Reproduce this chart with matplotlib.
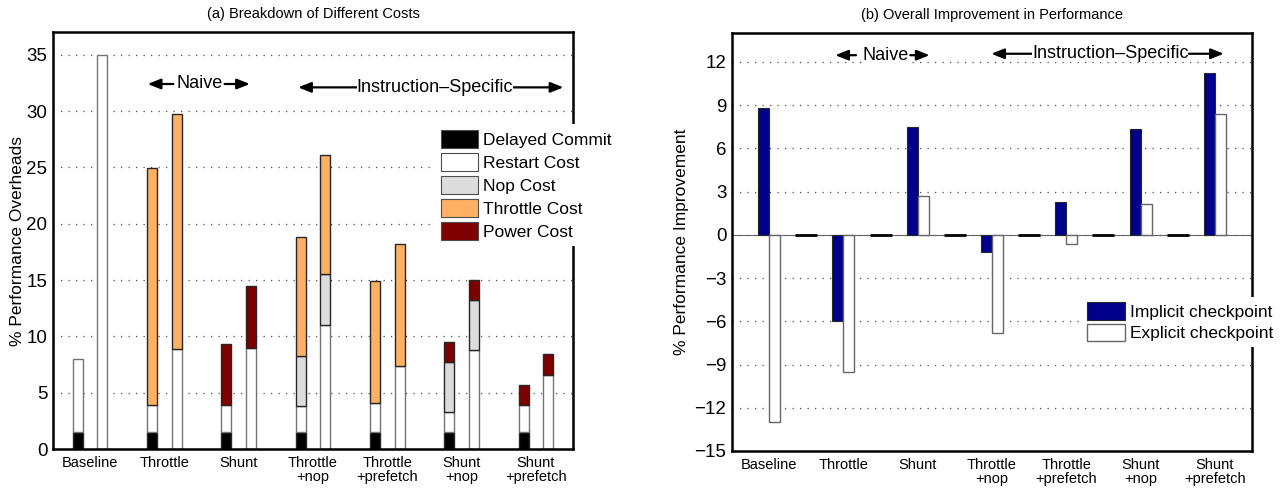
import numpy as np
import matplotlib
matplotlib.use('Agg')
import matplotlib.pyplot as plt
from matplotlib.patches import Patch

plt.rcParams['font.family'] = ['Liberation Sans', 'DejaVu Sans']

groups = ['Baseline', 'Throttle', 'Shunt', 'Throttle\n+nop', 'Throttle\n+prefetch',
          'Shunt\n+nop', 'Shunt\n+prefetch']

# (a) stacked costs, implicit (first bar) and explicit (second bar) per group
delayed_impl = [1.5, 1.5, 1.5, 1.5, 1.5, 1.5, 1.5]
restart_impl = [6.5, 2.4, 2.4, 2.3, 2.55, 1.8, 2.4]
nop_impl = [0, 0, 0, 4.5, 0, 4.4, 0]
throttle_impl = [0, 21.0, 0, 10.55, 10.85, 0, 0]
power_impl = [0, 0, 5.4, 0, 0, 1.8, 1.8]

delayed_expl = [0, 0, 0, 0, 0, 0, 0]
restart_expl = [35.0, 8.85, 9.0, 11.0, 7.4, 8.8, 6.6]
nop_expl = [0, 0, 0, 4.5, 0, 4.4, 0]
throttle_expl = [0, 20.9, 0, 10.6, 10.8, 0, 0]
power_expl = [0, 0, 5.45, 0, 0, 1.8, 1.8]

# (b) overall improvement
implicit_impr = [8.8, -5.95, 7.48, -1.2, 2.27, 7.32, 11.19]
explicit_impr = [-13.0, -9.5, 2.66, -6.83, -0.63, 2.15, 8.36]

cost_names = ['Delayed Commit', 'Restart Cost', 'Nop Cost', 'Throttle Cost', 'Power Cost']
cost_colors = ['#000000', '#ffffff', '#dcdcdc', '#ffb163', '#7f0000']

fig = plt.figure(figsize=(12.86, 4.91), dpi=100)
ax1 = fig.add_axes([0.0412, 0.0855, 0.4044, 0.849])
ax2 = fig.add_axes([0.5692, 0.0815, 0.4044, 0.8513])

x = np.arange(len(groups))
w = 0.135
off = 0.165

impl_stack = [delayed_impl, restart_impl, nop_impl, throttle_impl, power_impl]
expl_stack = [delayed_expl, restart_expl, nop_expl, throttle_expl, power_expl]
for pos, stack in [(x - off, impl_stack), (x + off, expl_stack)]:
    bottom = np.zeros(len(groups))
    for vals, col in zip(stack, cost_colors):
        vals = np.array(vals, dtype=float)
        ec = '0.45' if col == '#ffffff' else '0.15'
        mask = vals > 0
        ax1.bar(pos[mask], vals[mask], w, bottom=bottom[mask], color=col,
                edgecolor=ec, linewidth=1.0, zorder=3)
        bottom += vals

ax1.set_xlim(-0.5, 6.5)
ax1.set_ylim(0, 37)
ax1.set_yticks(range(0, 36, 5))
ax1.set_xticks(x)
ax1.set_xticklabels(groups, fontsize=10.5, linespacing=1.0)
ax1.set_ylabel('% Performance Overheads', fontsize=12.5, labelpad=1)
ax1.set_title('(a) Breakdown of Different Costs', fontsize=10.5, pad=10)
ax1.yaxis.grid(True, linestyle=(0, (1, 5)), color='0.3', linewidth=0.9, zorder=0)
ax1.set_axisbelow(True)

handles = [Patch(facecolor=c, edgecolor='0.3', linewidth=0.8) for c in cost_colors]
leg1 = ax1.legend(handles, cost_names, loc='upper left', bbox_to_anchor=(0.735, 0.78),
                  fontsize=12.5, frameon=True, fancybox=False, framealpha=1,
                  edgecolor='none', borderaxespad=0, borderpad=0.35,
                  handlelength=2.1, handleheight=1.2, handletextpad=0.3,
                  labelspacing=0.3)
leg1.set_zorder(10)

# arrows and labels, panel (a)
arr = dict(arrowstyle='-|>,head_length=0.55,head_width=0.22', color='k', lw=1.6,
           mutation_scale=14, shrinkA=0, shrinkB=0)
ax1.annotate('', xy=(0.775, 32.4), xytext=(1.12, 32.4), arrowprops=arr)
ax1.annotate('', xy=(2.15, 32.4), xytext=(1.81, 32.4), arrowprops=arr)
ax1.text(1.476, 32.4, 'Naive', ha='center', va='center', fontsize=13)
ax1.annotate('', xy=(2.80, 32.1), xytext=(3.60, 32.1), arrowprops=arr)
ax1.annotate('', xy=(6.37, 32.1), xytext=(5.69, 32.1), arrowprops=arr)
ax1.text(4.64, 32.1, 'Instruction\u2013Specific', ha='center', va='center',
         fontsize=13, bbox=dict(facecolor='white', edgecolor='none', pad=0))

# (b)
wb = 0.148
ax2.bar(x - wb / 2, implicit_impr, wb, color='#00008b', edgecolor='0.15',
        linewidth=0.8, zorder=3, label='Implicit checkpoint')
ax2.bar(x + wb / 2, explicit_impr, wb, color='white', edgecolor='0.4',
        linewidth=1.0, zorder=3, label='Explicit checkpoint')
# empty slots between groups (zero-height bars)
ax2.bar(x[:-1] + 0.5, np.zeros(len(groups) - 1), 2 * wb, color='k',
        edgecolor='k', linewidth=2.0, zorder=3)
ax2.axhline(0, color='0.4', linewidth=0.8, zorder=2)

ax2.set_xlim(-0.5, 6.5)
ax2.set_ylim(-15, 14)
ax2.set_yticks(range(-15, 13, 3))
ax2.set_xticks(x)
ax2.set_xticklabels(groups, fontsize=10.5, linespacing=1.0)
ax2.set_ylabel('% Performance Improvement', fontsize=12.5, labelpad=4)
ax2.set_title('(b) Overall Improvement in Performance', fontsize=10.5, pad=10)
ax2.yaxis.grid(True, linestyle=(0, (1, 5)), color='0.3', linewidth=0.9, zorder=0)
ax2.set_axisbelow(True)

leg2 = ax2.legend(loc='upper left', bbox_to_anchor=(0.672, 0.368), fontsize=12.5,
                  frameon=True, fancybox=False, framealpha=1, edgecolor='none',
                  borderaxespad=0, borderpad=0.3, handlelength=2.2,
                  handleheight=1.2, handletextpad=0.3, labelspacing=0.2)
leg2.set_zorder(10)

ax2.annotate('', xy=(0.89, 12.46), xytext=(1.17, 12.46), arrowprops=arr)
ax2.annotate('', xy=(2.16, 12.46), xytext=(1.90, 12.46), arrowprops=arr)
ax2.text(1.57, 12.46, 'Naive', ha='center', va='center', fontsize=13,
         bbox=dict(facecolor='white', edgecolor='none', pad=0))
ax2.annotate('', xy=(2.99, 12.56), xytext=(3.54, 12.56), arrowprops=arr)
ax2.annotate('', xy=(6.12, 12.56), xytext=(5.65, 12.56), arrowprops=arr)
ax2.text(4.59, 12.56, 'Instruction\u2013Specific', ha='center', va='center',
         fontsize=13, bbox=dict(facecolor='white', edgecolor='none', pad=0))

for ax in (ax1, ax2):
    for s in ax.spines.values():
        s.set_linewidth(1.8)
        s.set_zorder(5)
    ax.tick_params(axis='both', length=0, pad=5)
    ax.tick_params(axis='y', labelsize=13.5, pad=4)

fig.savefig('out.png', dpi=100)
